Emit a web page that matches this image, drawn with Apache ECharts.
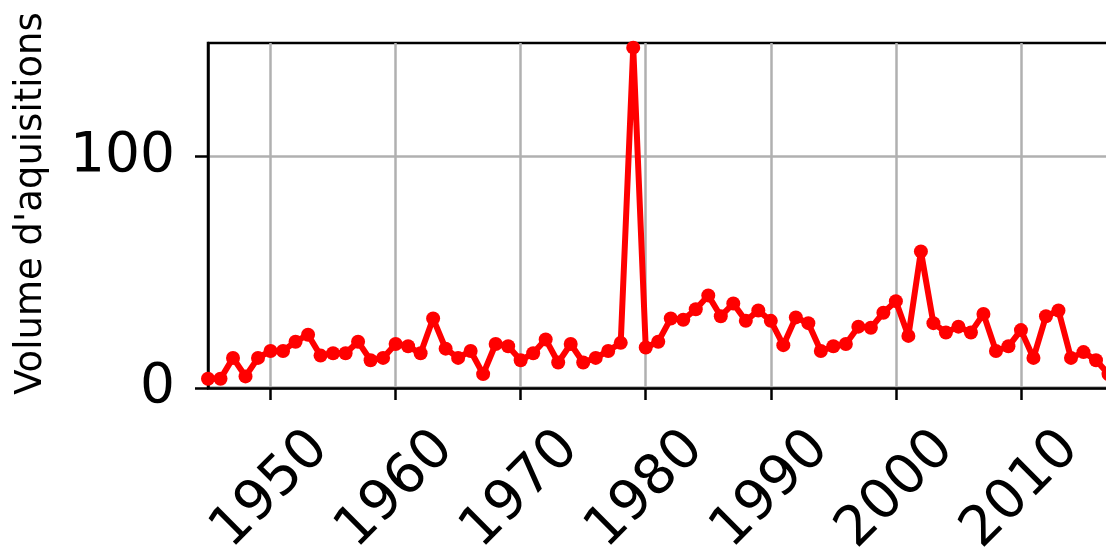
<!DOCTYPE html>
<html>
<head>
<meta charset="utf-8">
<script src="https://cdn.jsdelivr.net/npm/echarts@6/dist/echarts.min.js"></script>
<style>
  html, body { margin: 0; padding: 0; background: #fff; }
  #chart { width: 1106px; height: 557px; }
</style>
</head>
<body>
<div id="chart"></div>
<script>
// years 1945 .. 2017
var years = [];
for (var y = 1945; y <= 2017; y++) years.push(String(y));

// acquisitions per year
var volumes = [
  4, 4, 13, 5, 13, 16, 16, 20, 23, 14,
  15, 15, 20, 12, 13, 19, 18, 15, 30, 17,
  13, 16, 6, 19, 18, 12, 15, 21, 11, 19,
  11, 13, 16, 19.5, 147, 17.5, 20, 30, 29.5, 34,
  40, 31, 36.5, 29, 33.5, 29, 18.5, 30.5, 28, 16,
  18, 19, 26.5, 26, 32.5, 37.5, 22.5, 59, 28, 24,
  26.5, 24, 32, 16, 18, 25, 13, 31, 33.5, 13,
  15.5, 12, 6
];

var yTicks = [0, 100];

var chart = echarts.init(document.getElementById('chart'));
var font = 'DejaVu Sans';
var everyTen = function (i, v) { return Number(v) % 10 === 0; };

chart.setOption({
  animation: false,
  backgroundColor: '#fff',
  grid: {
    left: 208, top: 43, right: -2.5, bottom: 169,
    outerBoundsMode: 'none', containLabel: false,
    show: true, borderColor: '#000', borderWidth: 2.5
  },
  xAxis: {
    type: 'category',
    data: years,
    boundaryGap: false,
    axisLine: { lineStyle: { color: '#000', width: 2.5 } },
    axisTick: { length: 12, interval: everyTen, lineStyle: { color: '#000', width: 2.5 } },
    splitLine: { show: true, interval: everyTen, lineStyle: { color: '#b0b0b0', width: 2.5 } },
    axisLabel: {
      interval: everyTen,
      rotate: 45, align: 'center', verticalAlign: 'middle',
      margin: 102, fontSize: 55, fontFamily: font, color: '#000'
    }
  },
  yAxis: {
    type: 'value',
    min: yTicks[0], max: 149, interval: yTicks[1] - yTicks[0],
    name: "Volume d'aquisitions",
    nameLocation: 'middle', nameGap: 158,
    nameTextStyle: { fontSize: 37, fontFamily: font, color: '#000', padding: [0, 0, 0, 24] },
    axisLine: { show: true, lineStyle: { color: '#000', width: 2.5 } },
    axisTick: { show: true, length: 13, lineStyle: { color: '#000', width: 2.5 } },
    splitLine: { show: true, showMaxLine: false, lineStyle: { color: '#b0b0b0', width: 2.5 } },
    axisLabel: {
      showMaxLabel: false, margin: 33,
      fontSize: 55, fontFamily: font, color: '#000'
    }
  },
  series: [{
    type: 'line',
    data: volumes,
    symbol: 'circle',
    symbolSize: 14,
    showAllSymbol: true,
    color: '#ff0000',
    lineStyle: { width: 6, color: '#ff0000' },
    itemStyle: { color: '#ff0000' }
  }]
});
</script>
</body>
</html>
